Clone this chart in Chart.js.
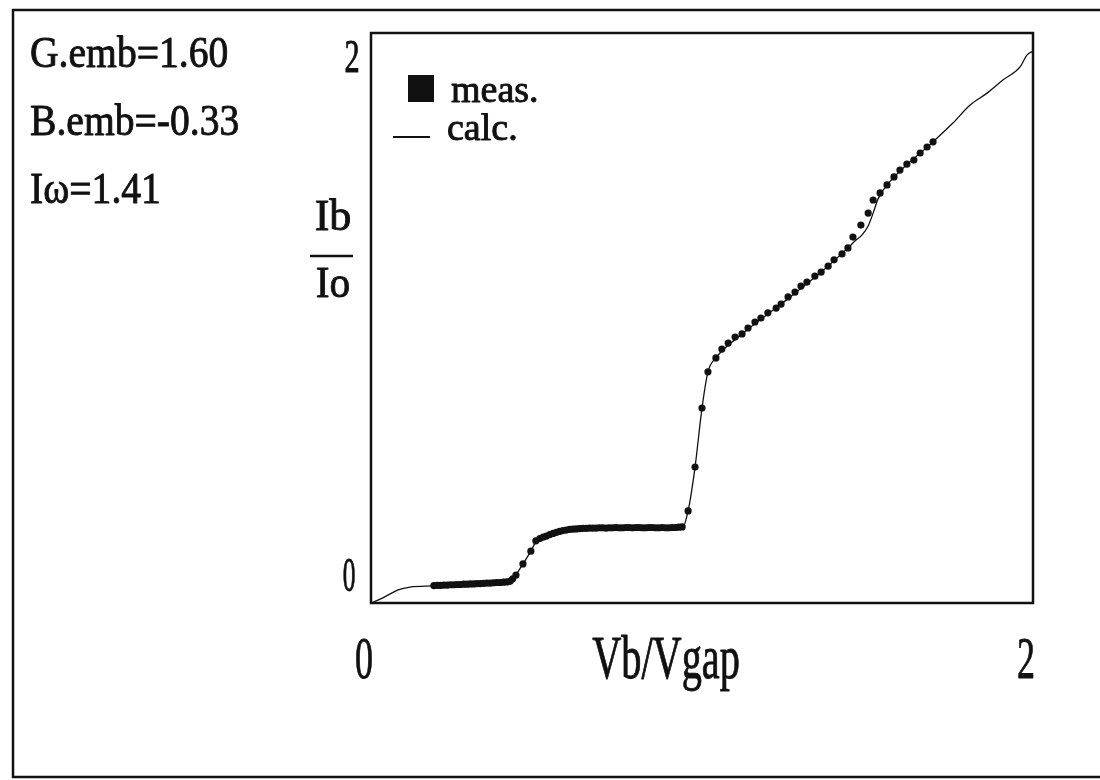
<!DOCTYPE html>
<html>
<head>
<meta charset="utf-8">
<title>Ib/Io vs Vb/Vgap</title>
<script src="https://cdn.jsdelivr.net/npm/chart.js@4.4.1/dist/chart.umd.min.js"></script>
<style>
  html, body { margin: 0; padding: 0; background: #fff; }
  #grafico { display: block; }
</style>
</head>
<body>
<canvas id="grafico" width="1100" height="780"></canvas>
<script>
// DADOS
const paramLines = ['G.emb=1.60', 'B.emb=-0.33', 'I\u03c9=1.41'];
const xTicks = [0, 2];
const yTicks = [0, 2];
const xTitle = 'Vb/Vgap';
const yTitleTop = 'Ib';
const yTitleBottom = 'Io';

// meas.
const measX = [
  0.19, 0.20, 0.21, 0.22, 0.23, 0.24, 0.25, 0.26, 0.27, 0.28, 0.29, 0.30,
  0.31, 0.32, 0.33, 0.34, 0.35, 0.36, 0.37, 0.38, 0.39, 0.40, 0.41, 0.42, 0.428,
  0.438, 0.459, 0.483, 0.498,
  0.51, 0.52, 0.53, 0.54, 0.55, 0.56, 0.57, 0.58, 0.59, 0.60, 0.61, 0.62,
  0.63, 0.64, 0.65, 0.66, 0.67, 0.68, 0.69, 0.70, 0.71, 0.72, 0.73, 0.74,
  0.75, 0.76, 0.77, 0.78, 0.79, 0.80, 0.81, 0.82, 0.83, 0.84, 0.85, 0.86,
  0.87, 0.88, 0.89, 0.90, 0.91, 0.92, 0.93, 0.94,
  0.958, 0.979, 1.000, 1.018, 1.042, 1.060, 1.079, 1.100, 1.121, 1.139,
  1.160, 1.178, 1.199, 1.224, 1.239, 1.260, 1.281, 1.299, 1.317, 1.341,
  1.360, 1.381, 1.399, 1.423, 1.441, 1.456, 1.480, 1.502, 1.517, 1.538,
  1.559, 1.580, 1.598, 1.619, 1.640, 1.659, 1.680, 1.698
];
const measY = [
  0.061, 0.062, 0.062, 0.063, 0.063, 0.064, 0.064, 0.065, 0.065, 0.066, 0.066, 0.067,
  0.067, 0.068, 0.068, 0.069, 0.070, 0.070, 0.071, 0.072, 0.072, 0.073, 0.074, 0.076, 0.085,
  0.098, 0.137, 0.182, 0.218,
  0.226, 0.231, 0.235, 0.240, 0.244, 0.248, 0.251, 0.254, 0.256, 0.258, 0.259, 0.260,
  0.261, 0.262, 0.262, 0.263, 0.263, 0.263, 0.264, 0.264, 0.263, 0.264, 0.264, 0.265,
  0.264, 0.264, 0.265, 0.265, 0.264, 0.265, 0.265, 0.264, 0.264, 0.265, 0.265, 0.264,
  0.264, 0.265, 0.264, 0.264, 0.265, 0.265, 0.266, 0.267,
  0.323, 0.477, 0.684, 0.811, 0.860, 0.891, 0.912, 0.933, 0.944, 0.965,
  0.986, 1.000, 1.018, 1.035, 1.049, 1.074, 1.091, 1.112, 1.126, 1.147,
  1.161, 1.182, 1.204, 1.225, 1.246, 1.284, 1.326, 1.368, 1.414, 1.439,
  1.467, 1.495, 1.519, 1.540, 1.554, 1.579, 1.600, 1.618
];

// calc. (curva calculada)
const calcX = [
  0, 0.036, 0.082, 0.118, 0.187, 0.30, 0.426, 0.438, 0.459, 0.483, 0.498, 0.532,
  0.571, 0.671, 0.80, 0.940, 0.958, 0.979, 1.000, 1.018, 1.042, 1.121, 1.239,
  1.360, 1.441, 1.462, 1.483, 1.502, 1.517, 1.532, 1.559, 1.698, 1.758, 1.810,
  1.861, 1.909, 1.961, 1.982, 2.0
];
const calcY = [
  0, 0.018, 0.046, 0.056, 0.060, 0.066, 0.077, 0.098, 0.137, 0.182, 0.214, 0.235,
  0.253, 0.263, 0.263, 0.263, 0.323, 0.477, 0.684, 0.811, 0.860, 0.944, 1.049,
  1.161, 1.246, 1.270, 1.291, 1.323, 1.368, 1.418, 1.467, 1.618, 1.684, 1.747,
  1.789, 1.835, 1.881, 1.923, 1.937
];

const INK = '#111';
const SERIF = '"Liberation Serif", "DejaVu Serif", serif';

// texto estreito (fonte condensada da figura), com traço para engrossar
function textoEstreito(ctx, txt, x, y, size, sx, align, baseline) {
  ctx.save();
  ctx.font = `${size}px ${SERIF}`;
  ctx.textBaseline = baseline || 'alphabetic';
  const w = ctx.measureText(txt).width * sx;
  let left = x;
  if (align === 'center') left = x - w / 2;
  if (align === 'right') left = x - w;
  ctx.translate(left, y);
  ctx.scale(sx, 1);
  ctx.textAlign = 'left';
  ctx.fillStyle = INK;
  ctx.strokeStyle = INK;
  ctx.lineWidth = 0.9;
  ctx.lineJoin = 'round';
  ctx.fillText(txt, 0, 0);
  ctx.strokeText(txt, 0, 0);
  ctx.restore();
}

const decoracao = {
  id: 'decoracao',
  afterDraw(chart) {
    const ctx = chart.ctx;
    const area = chart.chartArea;
    const sx = chart.scales.x;
    const sy = chart.scales.y;

    ctx.save();
    ctx.strokeStyle = INK;

    // MOLDURA EXTERNA
    ctx.lineWidth = 2.5;
    ctx.beginPath();
    ctx.moveTo(1100, 10);
    ctx.lineTo(13, 10);
    ctx.lineTo(13, 777);
    ctx.lineTo(1100, 777);
    ctx.stroke();

    // CAIXA DO GRAFICO
    ctx.lineWidth = 2.5;
    ctx.strokeRect(area.left, area.top, area.right - area.left, area.bottom - area.top);
    ctx.restore();

    // PARAMETROS
    paramLines.forEach((t, i) => {
      textoEstreito(ctx, t, 30, 67 + i * 68, 45, 0.88, 'left');
    });

    // TICKS
    xTicks.forEach(v => {
      textoEstreito(ctx, String(v), sx.getPixelForValue(v) - 7, 678, 59, 0.61, 'center');
    });
    yTicks.forEach((v, i) => {
      const py = sy.getPixelForValue(v);
      if (i === yTicks.length - 1) {
        textoEstreito(ctx, String(v), area.left - 19, py + 4, 46, 0.66, 'center', 'top');
      } else {
        textoEstreito(ctx, String(v), area.left - 22, py, 49, 0.52, 'center', 'bottom');
      }
    });

    // TITULOS DOS EIXOS
    textoEstreito(ctx, xTitle, 666, 678, 62, 0.65, 'center');
    textoEstreito(ctx, yTitleTop, 333, 230, 45, 0.98, 'center');
    textoEstreito(ctx, yTitleBottom, 333, 297, 45, 0.92, 'center');
    ctx.save();
    ctx.strokeStyle = INK;
    ctx.lineWidth = 2.5;
    ctx.beginPath();
    ctx.moveTo(310, 256);
    ctx.lineTo(353, 256);
    ctx.stroke();
    ctx.restore();

    // LEGENDA
    const ds = chart.data.datasets;
    ctx.save();
    ctx.fillStyle = INK;
    ctx.fillRect(408, 75, 26, 27);
    ctx.strokeStyle = INK;
    ctx.lineWidth = 2;
    ctx.beginPath();
    ctx.moveTo(393, 137);
    ctx.lineTo(430, 137);
    ctx.stroke();
    ctx.restore();
    textoEstreito(ctx, ds[0].label, 451, 102, 38, 1, 'left');
    textoEstreito(ctx, ds[1].label, 447, 140, 38, 1, 'left');
  }
};

const canvas = document.getElementById('grafico');

new Chart(canvas.getContext('2d'), {
  type: 'scatter',
  data: {
    datasets: [
      {
        label: 'meas.',
        data: measX.map((x, i) => ({ x, y: measY[i] })),
        showLine: false,
        pointRadius: 3.6,
        pointStyle: 'circle',
        pointBackgroundColor: INK,
        pointBorderWidth: 0
      },
      {
        label: 'calc.',
        data: calcX.map((x, i) => ({ x, y: calcY[i] })),
        showLine: true,
        pointRadius: 0,
        borderColor: INK,
        borderWidth: 1.3,
        cubicInterpolationMode: 'monotone'
      }
    ]
  },
  options: {
    responsive: false,
    devicePixelRatio: 1,
    animation: false,
    layout: {
      padding: { left: 371, right: 67, top: 33, bottom: 177 }
    },
    plugins: {
      legend: { display: false },
      tooltip: { enabled: false }
    },
    scales: {
      x: { type: 'linear', min: 0, max: 2, display: false },
      y: { type: 'linear', min: 0, max: 2, display: false }
    }
  },
  plugins: [decoracao]
});
</script>
</body>
</html>
